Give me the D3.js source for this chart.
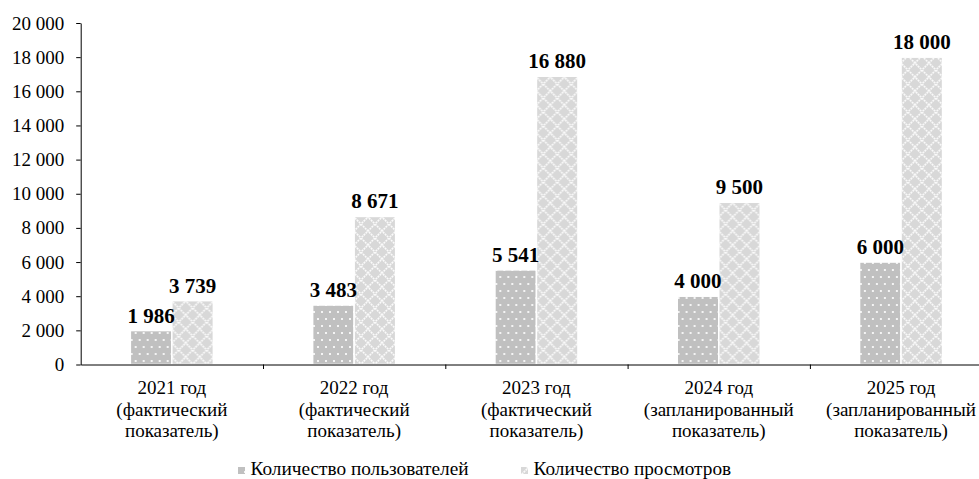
<!DOCTYPE html>
<html>
<head>
<meta charset="utf-8">
<script src="https://cdn.jsdelivr.net/npm/d3@7"></script>
<style>
  html, body { margin: 0; padding: 0; background: #fff; }
  svg { display: block; font-family: "Liberation Serif", "Times New Roman", serif; }
</style>
</head>
<body>
<div class="chart"></div>
<script>
// data
const years = ["2021 год", "2022 год", "2023 год", "2024 год", "2025 год"];
const yearNotes = ["(фактический", "(фактический", "(фактический", "(запланированный", "(запланированный"];
const seriesNames = ["Количество пользователей", "Количество просмотров"];
const users = [1986, 3483, 5541, 4000, 6000];
const views = [3739, 8671, 16880, 9500, 18000];
const yTicks = [0, 2000, 4000, 6000, 8000, 10000, 12000, 14000, 16000, 18000, 20000];

const width = 979, height = 479;
const plotLeft = 80.7, bandW = 182.3, plotTop = 23, plotBottom = 364.5;
const barW = 41.5;

const fmt = d3.formatLocale({ decimal: ",", thousands: " ", grouping: [3], currency: ["", ""] }).format(",d");

const svg = d3.select(".chart")
  .append("svg")
  .attr("width", width)
  .attr("height", height);

// patterns
const defs = svg.append("defs");

const dots = defs.append("pattern")
  .attr("id", "dots")
  .attr("patternUnits", "userSpaceOnUse")
  .attr("width", 8)
  .attr("height", 14);
dots.append("rect").attr("width", 8).attr("height", 14).attr("fill", "#c0c0c0");
dots.append("rect").attr("x", 2).attr("y", 3).attr("width", 2).attr("height", 2).attr("fill", "#f4f4f4");
dots.append("rect").attr("x", 6).attr("y", 10).attr("width", 2).attr("height", 2).attr("fill", "#f4f4f4");

const diam = defs.append("pattern")
  .attr("id", "diam")
  .attr("patternUnits", "userSpaceOnUse")
  .attr("width", 14)
  .attr("height", 14);
diam.append("rect").attr("width", 14).attr("height", 14).attr("fill", "#d8d8d8");
diam.append("path")
  .attr("d", "M0,0L14,14M14,0L0,14")
  .attr("stroke", "#fafafa")
  .attr("stroke-width", 1.6)
  .attr("stroke-dasharray", "2,0.8");

const fills = ["url(#dots)", "url(#diam)"];

// scales
const x = d3.scaleBand()
  .domain(years)
  .range([plotLeft, plotLeft + bandW * years.length])
  .padding(0);

const xs = d3.scaleBand()
  .domain(seriesNames)
  .range([bandW / 2 - barW, bandW / 2 + barW]);

const y = d3.scaleLinear()
  .domain([0, 20000])
  .range([plotBottom, plotTop]);

const xEdge = d3.scaleLinear()
  .domain([0, years.length])
  .range([plotLeft, plotLeft + bandW * years.length]);

// bars
const groups = svg.append("g")
  .selectAll("g")
  .data(years)
  .join("g")
  .attr("transform", d => `translate(${x(d)},0)`);

const seriesVals = [users, views];

seriesVals.forEach((vals, si) => {
  groups.append("rect")
    .attr("x", xs(seriesNames[si]))
    .attr("width", xs.bandwidth())
    .attr("y", (d, i) => y(vals[i]))
    .attr("height", (d, i) => y(0) - y(vals[i]))
    .attr("fill", fills[si])
    .attr("stroke", "#fff")
    .attr("stroke-width", 1.5);
});

seriesVals.forEach((vals, si) => {
  groups.append("text")
    .attr("x", xs(seriesNames[si]) + xs.bandwidth() / 2)
    .attr("y", (d, i) => y(vals[i]) - 8)
    .attr("text-anchor", "middle")
    .style("font-size", "21px")
    .style("font-weight", "bold")
    .text((d, i) => fmt(vals[i]));
});

// y axis
const yAxis = svg.append("g")
  .attr("transform", `translate(${plotLeft},0)`)
  .call(d3.axisLeft(y).tickValues(yTicks).tickFormat(fmt).tickSize(4.5).tickSizeOuter(0).tickPadding(12));
yAxis.attr("font-family", null).attr("font-size", null);
yAxis.selectAll("text").style("font-size", "19px").attr("fill", "#000");
yAxis.selectAll("line, path").attr("stroke", "#000");

// x axis
const xAxis = svg.append("g")
  .attr("transform", `translate(0,${plotBottom})`)
  .call(d3.axisBottom(xEdge).tickValues(d3.range(1, years.length + 1)).tickFormat("").tickSize(4.5).tickSizeOuter(0));
xAxis.selectAll("line, path").attr("stroke", "#000");

const catLabels = svg.append("g")
  .selectAll("text")
  .data(years)
  .join("text")
  .attr("x", d => x(d) + bandW / 2)
  .attr("y", plotBottom + 29.5)
  .attr("text-anchor", "middle")
  .style("font-size", "19px");

catLabels.append("tspan").attr("x", d => x(d) + bandW / 2).text(d => d);
catLabels.append("tspan").attr("x", d => x(d) + bandW / 2).attr("dy", 21.5).text((d, i) => yearNotes[i]);
catLabels.append("tspan").attr("x", d => x(d) + bandW / 2).attr("dy", 21.5).text("показатель)");

// legend
const legendX = [238, 521];
const legend = svg.append("g")
  .selectAll("g")
  .data(seriesNames)
  .join("g")
  .attr("transform", (d, i) => `translate(${legendX[i]},475)`);

legend.append("rect")
  .attr("x", 0)
  .attr("y", -8)
  .attr("width", 7)
  .attr("height", 7)
  .attr("fill", (d, i) => fills[i]);

legend.append("text")
  .attr("x", 12.5)
  .attr("y", 0)
  .style("font-size", "19.3px")
  .text(d => d);
</script>
</body>
</html>
